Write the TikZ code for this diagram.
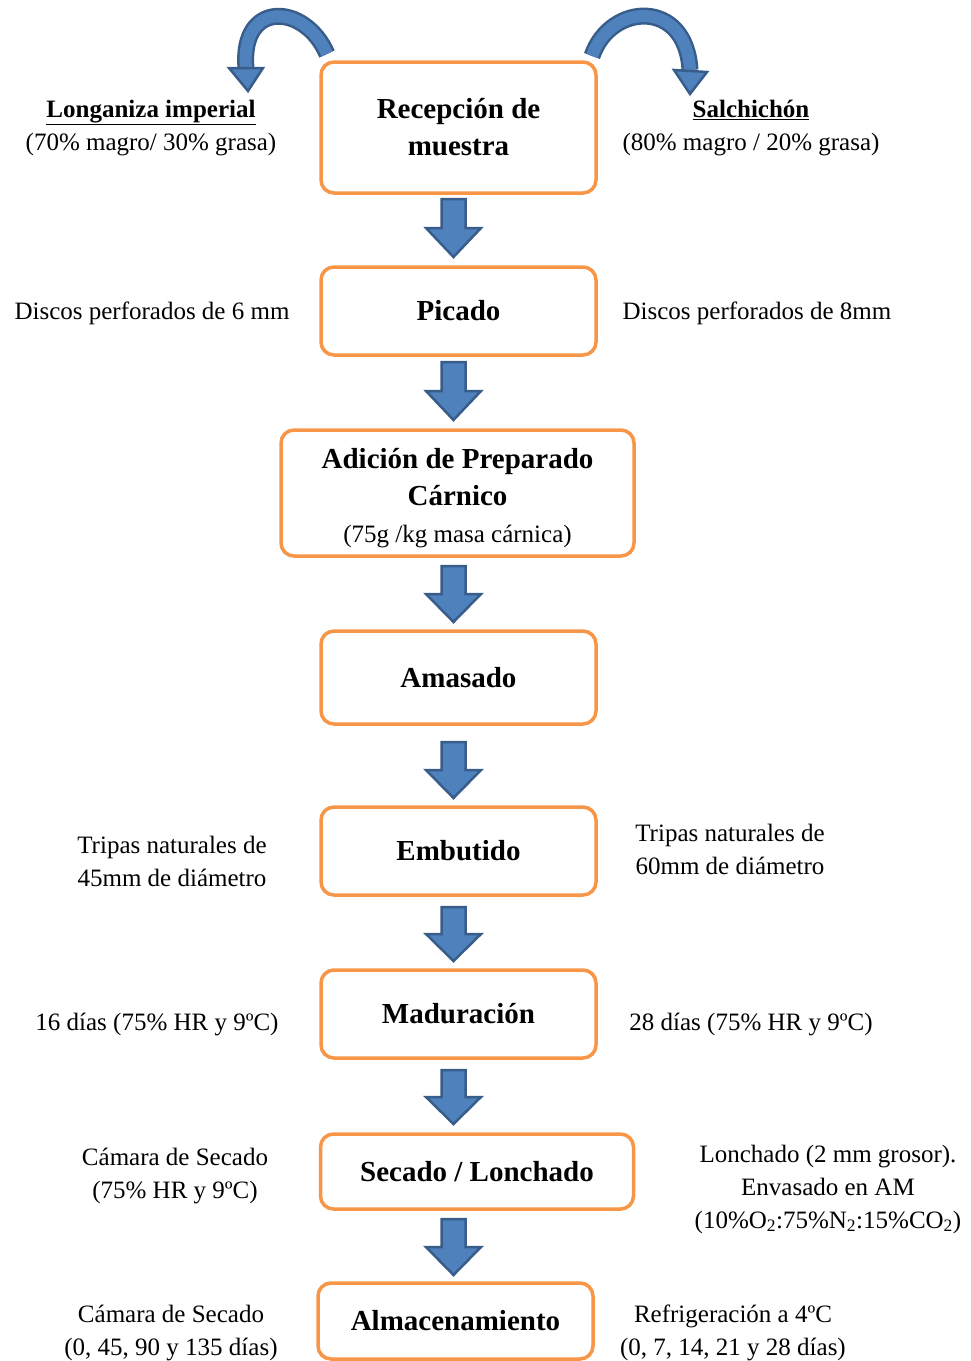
\documentclass[tikz,border=0pt]{standalone}
\usepackage{fontspec}
\setmainfont{Liberation Serif}
\usetikzlibrary{calc}
\definecolor{boxorange}{RGB}{247,150,70}
\definecolor{arrowfill}{RGB}{79,129,189}
\definecolor{arrowline}{RGB}{56,93,138}
\newcommand\boxfont{\fontsize{29}{37}\selectfont\bfseries}
\newcommand\labfont{\fontsize{25}{33}\selectfont}
\newcommand\blockarr[3]{%
  \pgfmathsetmacro\bat{#2}\pgfmathsetmacro\bab{#3}\pgfmathsetmacro\bam{(#2+#3)/2}%
  \coordinate (#1) at (453.5,\bab);
  \draw[blockarrow] (441.5,\bat) -- (465.5,\bat) -- (465.5,\bam) -- (481,\bam) -- (#1) -- (426,\bam) -- (441.5,\bam) -- cycle;
}
\begin{document}
\begin{tikzpicture}[x=1pt,y=-1pt,
  stepbox/.style={draw=boxorange, line width=3.5pt, rounded corners=13pt, fill=white,
    align=center, font=\boxfont, inner sep=0pt},
  lab/.style={align=center, font=\labfont, inner sep=0pt},
  blockarrow/.style={fill=arrowfill, draw=arrowline, line width=2.5pt, line join=miter},
  curveband/.style={draw=arrowline, line width=2.5pt, double=arrowfill, double distance=12pt},
  curvehead/.style={fill=arrowfill, draw=arrowline, line width=2.5pt, line join=miter}]
\useasboundingbox (0,0) rectangle (970,1361);

% boxes
\node[stepbox, minimum width=275pt, minimum height=131pt] (b1) at (458.5,127.5) {Recepción de\\muestra};
\node[stepbox, minimum width=275pt, minimum height=88pt] (b2) at (458.5,311) {Picado};
\node[stepbox, minimum width=353pt, minimum height=126pt] (b3) at (457.5,493) {};
\node[align=center, font=\boxfont, inner sep=0pt] (b3t) at (457.5,498) {Adición de Preparado\\Cárnico\\{\labfont\mdseries (75g /kg masa cárnica)}};
\node[stepbox, minimum width=275pt, minimum height=93pt] (b4) at (458.5,677.5) {Amasado};
\node[stepbox, minimum width=275pt, minimum height=88pt] (b5) at (458.5,851) {Embutido};
\node[stepbox, minimum width=275pt, minimum height=88pt] (b6) at (458.5,1014) {Maduración};
\node[stepbox, minimum width=313pt, minimum height=75pt] (b7) at (477,1171.5) {Secado / Lonchado};
\node[stepbox, minimum width=275pt, minimum height=76pt] (b8) at (455.5,1321) {Almacenamiento};

% block arrows
\blockarr{a1}{199}{257}
\blockarr{a2}{362}{420}
\blockarr{a3}{566}{622}
\blockarr{a4}{742}{798}
\blockarr{a5}{907}{961}
\blockarr{a6}{1070}{1124}
\blockarr{a7}{1219}{1275}

% curved arrows
\coordinate (lt) at (327,54);
\coordinate (le) at (246,68);
\draw[curveband] (lt) .. controls (305,3) and (240,0) .. (le);
\draw[curvehead] (229,68) -- (263,68) -- (248,91) -- cycle;
\coordinate (rt) at (592,56);
\coordinate (re) at (690,70);
\draw[curveband] (rt) .. controls (610,3) and (686,-2) .. (re);
\draw[curvehead] (674,70) -- (707,72) -- (690,94) -- cycle;

% side labels
\node[lab] (l1) at (151,128) {\textbf{\underline{Longaniza imperial}}\\(70\% magro/ 30\% grasa)};
\node[lab] (r1) at (751,128) {\textbf{\underline{Salchichón}}\\(80\% magro / 20\% grasa)};
\node[lab] (l2) at (152,313) {Discos perforados de 6 mm};
\node[lab] (r2) at (757,313) {Discos perforados de 8mm};
\node[lab] (l5) at (172,861) {Tripas naturales de\\45mm de diámetro};
\node[lab] (r5) at (730,849) {Tripas naturales de\\60mm de diámetro};
\node[lab] (l6) at (157,1024) {16 días (75\% HR y 9ºC)};
\node[lab] (r6) at (751,1024) {28 días (75\% HR y 9ºC)};
\node[lab] (l7) at (175,1176) {Cámara de Secado\\(75\% HR y 9ºC)};
\node[lab] (r7) at (828,1189) {Lonchado (2 mm grosor).\\Envasado en AM\\(10\%O\textsubscript{2}:75\%N\textsubscript{2}:15\%CO\textsubscript{2})};
\node[lab] (l8) at (171,1333) {Cámara de Secado\\(0, 45, 90 y 135 días)};
\node[lab] (r8) at (733,1333) {Refrigeración a 4ºC\\(0, 7, 14, 21 y 28 días)};
\end{tikzpicture}
\end{document}
